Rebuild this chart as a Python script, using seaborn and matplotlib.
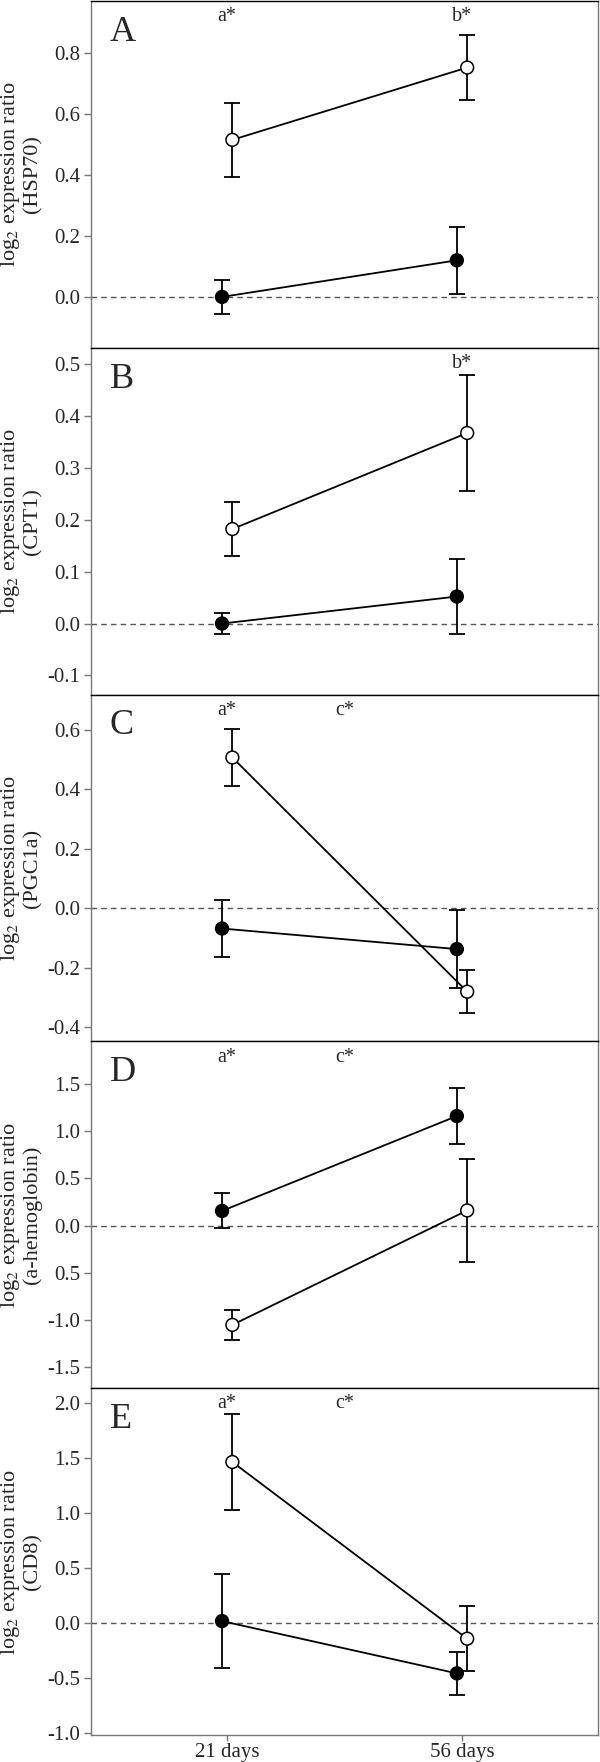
import numpy as np
import pandas as pd
import matplotlib
matplotlib.use("Agg")
import matplotlib.pyplot as plt
import seaborn as sns

# Values (log2 expression ratio, mean and error)
days = ["21 days", "56 days"]
letters = ["A", "B", "C", "D", "E"]
genes = ["HSP70", "CPT1", "PGC1a", "a-hemoglobin", "CD8"]

filled_mean = [[0.0, 0.12], [0.0, 0.052], [-0.068, -0.137], [0.155, 1.16], [0.015, -0.46]]
filled_err = [[0.057, 0.11], [0.021, 0.072], [0.097, 0.13], [0.185, 0.30], [0.43, 0.197]]
open_mean = [[0.515, 0.752], [0.182, 0.367], [0.506, -0.28], [-1.052, 0.16], [1.46, -0.145]]
open_err = [[0.122, 0.107], [0.052, 0.111], [0.095, 0.072], [0.16, 0.545], [0.44, 0.297]]

ylims = [(-0.167, 0.97), (-0.137, 0.531), (-0.447, 0.717), (-1.723, 1.95), (-1.02, 2.13)]
yticks = [
    [0.0, 0.2, 0.4, 0.6, 0.8],
    [-0.1, 0.0, 0.1, 0.2, 0.3, 0.4, 0.5],
    [-0.4, -0.2, 0.0, 0.2, 0.4, 0.6],
    [-1.5, -1.0, -0.5, 0.0, 0.5, 1.0, 1.5],
    [-1.0, -0.5, 0.0, 0.5, 1.0, 1.5, 2.0],
]
ytick_labels = [
    ["0.0", "0.2", "0.4", "0.6", "0.8"],
    ["-0.1", "0.0", "0.1", "0.2", "0.3", "0.4", "0.5"],
    ["-0.4", "-0.2", "0.0", "0.2", "0.4", "0.6"],
    ["-1.5", "-1.0", "0.5", "0.0", "0.5", "1.0", "1.5"],
    ["-1.0", "-0.5", "0.0", "0.5", "1.0", "1.5", "2.0"],
]
# significance letters: (x position in day units, text)
annotations = [
    [(0, "a*"), (1, "b*")],
    [(1, "b*")],
    [(0, "a*"), (0.5, "c*")],
    [(0, "a*"), (0.5, "c*")],
    [(0, "a*"), (0.5, "c*")],
]

sns.set_style("white")
plt.rcParams["font.family"] = ["Liberation Serif", "DejaVu Serif"]
plt.rcParams["mathtext.fontset"] = "stix"

fig, axes = plt.subplots(nrows=5, ncols=1, figsize=(6, 17.62), dpi=100, sharex=True)
fig.subplots_adjust(left=0.1517, right=0.997, top=0.9994, bottom=0.0153, hspace=0)

spine_grey = "#777777"
offset = 0.022

for i, ax in enumerate(axes):
    df = pd.DataFrame({
        "x": [0 - offset, 1 - offset, 0 + offset, 1 + offset],
        "mean": filled_mean[i] + open_mean[i],
        "err": filled_err[i] + open_err[i],
        "group": ["filled", "filled", "open", "open"],
    })

    ax.axhline(0, color="#555555", lw=1, ls=(0, (4, 3)), zorder=0)

    for g, sub in df.groupby("group"):
        ax.errorbar(sub["x"], sub["mean"], yerr=sub["err"], fmt="none",
                    ecolor="black", elinewidth=1.3, capsize=5.5, capthick=1.3, zorder=2)

    sns.lineplot(data=df, x="x", y="mean", hue="group",
                 palette={"filled": "black", "open": "black"},
                 lw=1.3, legend=False, ax=ax, zorder=3, estimator=None, sort=True)
    sns.scatterplot(data=df, x="x", y="mean", hue="group",
                    palette={"filled": "black", "open": "white"},
                    edgecolor="black", linewidth=1.1, s=85, legend=False, ax=ax, zorder=4)

    ax.set_xlim(-0.58, 1.58)
    ax.set_ylim(*ylims[i])
    ax.set_yticks(yticks[i])
    ax.set_yticklabels(ytick_labels[i])
    ax.tick_params(axis="y", direction="out", length=4.8, width=1, color=spine_grey,
                   labelsize=15, pad=3, left=True)
    ax.tick_params(axis="x", direction="out", length=4, width=1, color=spine_grey,
                   labelsize=15, pad=2, bottom=(i == 4))

    ax.set_xlabel("")
    ax.set_ylabel("")
    # two-line y label, each line placed on its own
    ax.text(-0.158, 0.5, "log$_2$ expression ratio", transform=ax.transAxes,
            rotation=90, fontsize=16, ha="center", va="center")
    ax.text(-0.1155, 0.5, "(" + genes[i] + ")", transform=ax.transAxes,
            rotation=90, fontsize=16, ha="center", va="center")

    for side in ["left", "right", "bottom"]:
        ax.spines[side].set_color(spine_grey)
        ax.spines[side].set_linewidth(1)
    ax.spines["top"].set_color("black")
    ax.spines["top"].set_linewidth(1)

    ax.text(0.037, 0.91, letters[i], transform=ax.transAxes, fontsize=26,
            ha="left", va="center")
    for xpos, label in annotations[i]:
        ax.text(xpos, 0.955, label, transform=ax.get_xaxis_transform(),
                fontsize=14.5, ha="center", va="center")

axes[-1].set_xticks([0, 1])
axes[-1].set_xticklabels(days)

plt.savefig("out.png", dpi=100)
